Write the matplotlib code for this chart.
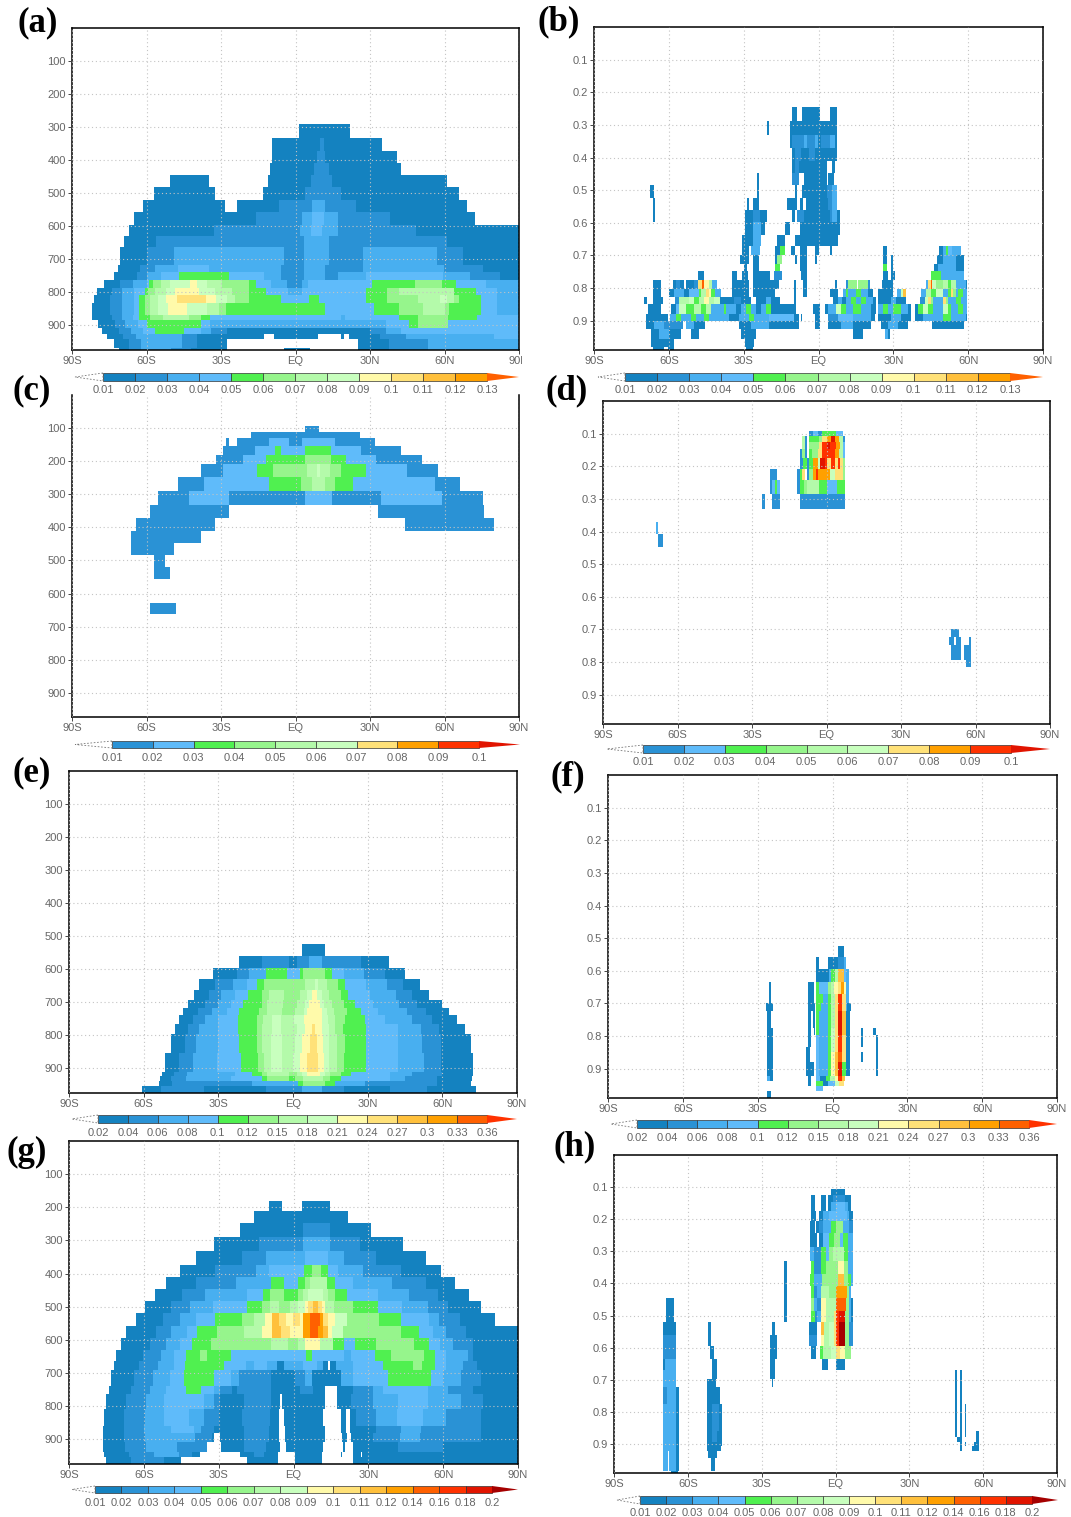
#!/usr/bin/env python
# zonal-mean cross sections, 8 panels, GrADS look
import numpy as np
import matplotlib
matplotlib.use('Agg')
from matplotlib import pyplot as plt
from matplotlib.colors import ListedColormap, BoundaryNorm
from matplotlib.patches import Polygon, Rectangle
from matplotlib.transforms import Bbox

W, H = 1071, 1517

# shading classes (1 = palest value class ... 16 = darkest red)
shades = ['#1482c0', '#2a92d5', '#48aff0', '#5fbbfa', '#50f050', '#96f58c',
          '#b4faaa', '#c8ffbe', '#fffaaa', '#ffe178', '#ffc03c', '#ffa000',
          '#ff6000', '#ff3200', '#e11400', '#a50000']

lat_ticks = [-90, -60, -30, 0, 30, 60, 90]
lat_labels = ['90S', '60S', '30S', 'EQ', '30N', '60N', '90N']
hpa_ticks = [100, 200, 300, 400, 500, 600, 700, 800, 900]
frac_ticks = [0.1, 0.2, 0.3, 0.4, 0.5, 0.6, 0.7, 0.8, 0.9]

labels_ab = ['0.01', '0.02', '0.03', '0.04', '0.05', '0.06', '0.07', '0.08', '0.09', '0.1', '0.11', '0.12', '0.13']
classes_ab = [1, 2, 3, 4, 5, 6, 7, 8, 9, 10, 11, 12, 13]
labels_cd = ['0.01', '0.02', '0.03', '0.04', '0.05', '0.06', '0.07', '0.08', '0.09', '0.1']
classes_cd = [2, 4, 5, 6, 7, 8, 10, 12, 14, 15]
labels_ef = ['0.02', '0.04', '0.06', '0.08', '0.1', '0.12', '0.15', '0.18', '0.21', '0.24', '0.27', '0.3', '0.33', '0.36']
classes_ef = [1, 2, 3, 4, 5, 6, 7, 8, 9, 10, 11, 12, 13, 14]
labels_gh = ['0.01', '0.02', '0.03', '0.04', '0.05', '0.06', '0.07', '0.08', '0.09', '0.1', '0.11', '0.12', '0.14', '0.16', '0.18', '0.2']
classes_gh = [1, 2, 3, 4, 5, 6, 7, 8, 9, 10, 11, 12, 13, 14, 15, 16]

# each row: (top of the layer, "lat:class" = from this latitude on, this class)
rows_a = [
    (290, "1.5:1 22:0"),
    (333, "-9.5:1 10:2 11.5:1 35:0"),
    (374, "-9.5:1 8.7:2 12:1 41:0"),
    (409, "-10.3:1 7.5:2 13.6:1 42.4:0"),
    (446, "-50.5:1 -34.7:0 -11.3:1 6.2:2 14.8:1 61:0"),
    (483, "-57:1 -32.3:0 -13.3:1 3.9:2 18.6:1 66:0"),
    (520, "-61.5:1 -28.5:0 -23.4:1 -6.5:2 6.6:3 12:2 24.5:1 69:0"),
    (557, "-65:1 -15.8:2 2.5:3 6.6:4 11.4:3 17:2 38:1 72.3:0"),
    (596, "-67:1 -33:2 2:3 6.2:4 10.7:3 17.2:2 48.5:1 90:0"),
    (631, "-69:1 -56:2 3.2:3 13.5:2 61:1 90:0"),
    (664, "-70.8:1 -60:2 -48.8:3 -4.4:2 3.6:3 13.5:2 27.2:3 57:2 67.5:1 90:0"),
    (717, "-71.4:1 -62.6:2 -56.4:3 -47.5:4 -34.7:3 -5.8:2 3.6:3 11.8:2 27.2:3 59.8:2 75.4:1 90:0"),
    (740, "-73:1 -64:2 -60:3 -54.3:4 -46.8:5 -26.8:4 -12.6:3 -5.8:2 3.6:3 11.8:2 17.3:3 28.6:4 59.6:3 70.3:2 82.3:1 90:0"),
    (765, "-77.3:1 -70.4:2 -65.2:3 -59.8:4 -59:5 -57.4:6 -54:7 -50.5:8 -42.5:9 -39.5:8 -35.4:7 -29.8:6 -18.8:5 -15.8:4 -9.9:3 -3.4:2 2.5:3 5:4 30.7:5 47.9:6 58.9:5 64.4:4 76.8:3 90:0"),
    (788, "-80:1 -73.9:2 -69.7:3 -65:4 -60.8:5 -59.4:6 -56.7:7 -51.9:8 -48.4:9 -38.8:8 -32.6:7 -25.7:6 -18.8:5 -12:4 -3:3 2.5:4 28.6:5 36.9:6 41.7:7 63.7:5 72.6:4 80.9:3 90:0"),
    (808, "-81.3:1 -74.5:2 -70:3 -65:4 -62.9:5 -60.8:6 -58.7:7 -55.3:8 -51.9:9 -47.7:10 -36:9 -32:8 -27.8:7 -24.3:6 -18.8:5 -5.8:4 5.2:5 9.4:4 28.6:5 36.9:6 49.2:7 58:8 61:7 63.7:6 65.8:5 74.7:4 80.9:3 90:0"),
    (835, "-81.7:1 -74.5:2 -70:3 -65:4 -62.9:5 -60.8:6 -58.7:7 -55.3:8 -51.2:9 -43.6:8 -35.4:7 -31:6 -28:5 -14.7:5 -3:5 12:4 31.4:5 41.7:6 51.3:7 60.2:6 62:5 74.7:4 80.9:3 90:0"),
    (870, "-81.7:1 -73.9:2 -70:3 -65.6:4 -62.9:5 -58.7:6 -53.2:7 -42.9:6 -38:5 -34.4:4 18.3:3 20:4 41.7:5 49.6:6 61.6:5 73.3:4 90:0"),
    (885, "-79.5:1 -72.5:2 -68.4:3 -63.5:4 -60:5 -38:4 -34.4:3 36.2:4 45.8:5 49.6:6 61.6:4 90:0"),
    (910, "-78:1 -71:2 -66.3:3 -61.5:4 -56.4:5 -45:4 -38:3 -34:2 -27.4:1 30:2 36.2:3 42.4:4 90:0"),
    (927, "-76:1 -69.5:2 -64.2:3 -45.7:2 -39.5:1 -12.6:0 -8.8:1 9.2:0 18.5:1 19.5:0 21.5:1 34:2 44.4:3 80:4 90:0"),
    (943, "-73:1 -67:2 -62.2:3 -45.7:2 -39.5:1 -27.8:0 25.2:1 37.5:2 53.4:3 90:0"),
    (970, "-71:1 -67:2 -62.2:3 -50:2 -42:1 -27.8:0 -4.8:1 5.9:0 25.2:1 37.5:2 53.4:3 90:0"),
]

rows_b = [
    (0.244, "-10.5:1 -8.8:0 -6.7:1 0.4:0 4.5:1 7.3:0"),
    (0.287, "-20.8:1 -19.7:0 -11.6:1 7.3:0"),
    (0.331, "-11.6:1 -10.5:2 -5.8:3 -4.5:2 -1.5:3 -0.3:1 1:2 4.5:3 6.8:1 7.3:0"),
    (0.372, "-10.5:1 -9.5:2 -7:1 -4:2 -1.5:1 7.3:0"),
    (0.41, "-10.5:1 -9.5:2 -8:1 3.5:0 5.5:1 6.5:0"),
    (0.447, "-24.6:1 -23.8:0 -10.5:2 -8:0 -5.8:1 3.5:0 4:1 6.3:0"),
    (0.485, "-67.7:1 -65.8:0 -24.6:1 -23.8:0 -9.5:1 -8.5:0 -6.7:1 3.5:2 5.2:3 7.3:0"),
    (0.523, "-66.4:1 -65.6:0 -28.8:1 -27.7:0 -26.3:1 -23.8:0 -12.6:1 -8.8:0 -7.4:1 -6.3:0 -5.1:1 4:2 5.2:3 7.3:0"),
    (0.56, "-66.4:1 -65.6:0 -29.5:1 -26.3:2 -23.6:1 -20.8:0 -10.5:1 -9.5:0 -8.5:2 -5.8:1 4.5:2 5.5:3 7.3:1 8.4:0"),
    (0.597, "-29.5:1 -26.3:3 -23:1 -21.5:0 -13.6:1 -11.6:0 -7.4:1 8.4:0"),
    (0.636, "-30.4:1 -26.3:3 -22.9:0 -16.4:1 -13.6:0 -9.6:1 7.7:0"),
    (0.671, "-30.4:1 -28:0 -27:3 -23.6:0 -17.6:1 -15.5:5 -13.6:0 -11:1 -9.6:0 -7.4:1 -4.8:0 -1.3:1 0.1:0 4.5:1 5.5:0 26:1 27.4:0 48.4:1 49.8:3 51:5 52:4 53.5:3 57.3:0"),
    (0.7, "-31.4:1 -27.7:0 -26.3:1 -23.8:0 -17.6:1 -16.5:6 -14.4:0 -9.6:1 -8.5:0 -7.4:1 -4.8:0 -1.3:1 -0.5:0 26:1 27.4:0 29:1 30:0 47.4:1 49.8:3 55:1 58.4:0"),
    (0.726, "-30:1 -28.5:0 -26.3:1 -23.8:0 -17.6:5 -15.3:0 -7.4:1 -4.8:0 26:5 27.4:0 29:1 30:0 46.3:1 47.7:3 55:1 58.4:0"),
    (0.748, "-48.5:1 -45.8:0 -34.8:1 -32.5:0 -30.4:1 -28.3:0 -26.3:1 -19.5:0 -18:2 -14.6:0 -7.1:1 -4.8:0 26:1 28:0 29:1 30.4:0 45:5 49.3:3 58.4:0"),
    (0.775, "-66.4:1 -63:0 -58.5:1 -57:2 -55.5:1 -53.7:0 -53:1 -50:2 -48.5:10 -46.8:13 -45.8:9 -44:7 -42.5:3 -40.5:0 -34.8:1 -27.7:0 -26.3:1 -16:0 -10:1 -9:0 -6.3:1 -4.8:0 6.5:1 7.5:0 11:2 12:6 15.5:0 16:6 20:2 20.5:0 25.5:1 30:0 43:3 44:10 45:13 45.5:8 47:6 50:7 52:5 53:7 55:3 59:1 59.5:0"),
    (0.803, "-66.4:1 -63:0 -60:1 -58:3 -54:1 -52:4 -48:5 -47:7 -45:10 -44:9 -43:5 -41.5:3 -39:0 -34.8:1 -27.7:0 -26.3:1 -17.5:0 -10:1 -9:0 -6.3:1 -4.8:0 4.5:1 8:0 10:3 11:5 12:3 15:5 17:3 20:1 22:0 24:1 30:0 31.5:3 33:8 34:11 35:0 41:3 43:7 45:5 47:8 50:3 52:5 53:10 54:6 55:3 56:5 58:3 59.5:0"),
    (0.828, "-70:1 -68.8:0 -66.4:1 -62.6:0 -57.5:2 -56:7 -52:8 -50:5 -48:7 -46:9 -44:7 -42:8 -39.5:1 -34:2 -31:1 -27:0 -25:1 -21:3 -19:1 -15.5:0 -10:1 -9:0 6:1 8:3 9.5:1 11:3 13:5 15:3 17:5 19:3 22:1 23:0 24:1 29:3 31:1 35:0 40.5:2 42.5:8 44:10 45:6 46:3 50:10 51:6 52:3 55:5 57:3 59.5:0"),
    (0.849, "-68.4:1 -63:0 -59:1 -57:4 -56:8 -53:5 -50:7 -47:5 -45:7 -43:3 -38:5 -37:3 -33:1 -31:3 -29:5 -27:3 -25:1 -23:3 -21:5 -19:1 -9:0 -2.3:1 0.4:0 2.5:1 4:3 7:8 9:5 11:3 14:5 17:3 21:1 23:0 24:3 26:5 28:3 30:5 33:3 36:1 37:0 38.5:1 40:5 42:8 44:5 46:3 50:8 52:5 53:3 56:5 58:3 59.5:0"),
    (0.879, "-68.9:1 -60.4:0 -59.5:3 -57:5 -55:3 -51:5 -49:3 -46:5 -44:3 -36:1 -32:3 -28:5 -26:3 -20:4 -10:1 -8:0 -7:1 -6.5:0 -1.6:1 0.4:0 4:2 8:4 14:3 21:1 22.5:0 24:1 29:3 33:1 37:0 38.5:1 42:3 50:5 53:3 59:1 59.5:0"),
    (0.9, "-68.9:1 -66:3 -62:2 -54.5:0 -53.2:3 -50:1 -45.5:0 -32:1 -27:3 -20:1 -7.8:0 -1.6:1 0.4:0 4:1 9:3 14:1 21:0 25:1 28:3 32:1 36:0 45.5:1 58.5:0"),
    (0.926, "-66.9:1 -64:3 -60:1 -55:0 -51:1 -48:0 -31:1 -25:0 14:1 18:0 26.5:3 28:1 28.6:0"),
    (0.956, "-66.9:1 -58:0 -29.5:1 -26:0"),
    (0.982, "-66.4:1 -62:0 -60.5:1 -58:0 -29:1 -26.3:0"),
]

rows_c = [
    (94, "3.7:2 9.6:0"),
    (112, "-18:2 26:0"),
    (130, "-27.9:2 -26.8:0 -23.5:2 -10.7:4 -2.7:2 2.7:4 15.7:2 32:0"),
    (153, "-29.3:2 -16.2:4 -8.2:5 -5.9:4 4:5 14.3:4 26.4:2 42.6:0"),
    (180, "-31.9:2 -21:4 -11.8:5 4:6 14.3:5 20.6:4 32.5:2 50.7:0"),
    (210, "-38.2:2 -29.3:4 -15.5:5 -9.3:6 4.8:7 8.8:8 9.9:7 13.7:6 18.5:5 28.4:4 45:2 57.3:0"),
    (248, "-47.3:2 -36.8:4 -10.7:5 2.3:6 6.5:7 12:6 15.7:5 23.2:4 55.9:2 66.2:0"),
    (290, "-55.4:2 -43:4 -26.8:2 4.1:4 14.7:2 34.2:4 59:2 75.4:0"),
    (333, "-58.8:2 -26.8:0 33.2:2 75.7:0"),
    (373, "-64.3:2 -32.3:0 44.2:2 79.8:0"),
    (410, "-66.2:2 -38.3:0"),
    (447, "-66.2:2 -48.8:0"),
    (483, "-57.1:2 -52.7:0"),
    (521, "-57.1:2 -50.5:0"),
    (557, ""),
    (630, "-58.4:2 -48:0"),
    (663, ""),
]

rows_d = [
    (0.092, "-6.9:2 -5.5:4 -3.5:2 -2:5 1:5 4:4 6.5:0"),
    (0.107, "-9.8:7 -8.4:2 -7.7:0 -6.9:5 -2.9:6 -1.8:10 0.3:12 1.9:15 3.3:12 5:7 6.5:2 7.2:0"),
    (0.127, "-9.8:7 -8.4:2 -7.7:0 -6.9:6 -2.9:10 -1.8:14 -0.1:15 1.2:14 3.7:12 5.4:7 6.5:4 7.2:0"),
    (0.148, "-10.6:2 -9.8:6 -8.4:2 -7.7:0 -6.9:5 -6:6 -3.6:10 -1.8:14 3.3:12 5:7 6.5:4 7.2:0"),
    (0.174, "-10.6:2 -9.4:5 -8:2 -7:5 -5.6:12 -3.6:8 -2.8:15 -0.8:14 0.3:10 1.9:14 3.3:10 4.7:14 5.4:10 6.7:6 7.2:0"),
    (0.207, "-22.8:2 -19.8:0 -11.7:2 -10.7:5 -9.7:10 -8.8:0 -8:2 -6.9:6 -5.6:12 -4.2:14 -3.6:12 1.2:8 3.3:10 6.7:6 7.2:0"),
    (0.243, "-22.8:2 -21.7:4 -20.7:5 -19.8:4 -18.7:0 -11.7:2 -10.7:5 -9:6 -7.7:7 -2.9:5 -0.1:4 4.3:5 7.2:0"),
    (0.286, "-25.9:2 -24.8:0 -21.7:2 -18.7:0 -10.7:2 7.2:0"),
    (0.331, ""),
    (0.371, "-68.8:3 -68:0"),
    (0.409, "-68:2 -65.8:0"),
    (0.446, ""),
    (0.699, "50.3:2 53.2:0"),
    (0.723, "49.2:2 51.2:0 52.3:2 54.2:0 57.2:2 58.3:0"),
    (0.748, "50.3:2 54.2:0 55.3:2 58.3:0"),
    (0.795, "56.2:2 58.3:0"),
    (0.816, ""),
]

rows_e = [
    (524, "3.8:1 13:0"),
    (559, "-21.4:1 -12.6:2 -1.4:1 1.4:2 6.2:3 11.7:2 27.2:1 38.7:0"),
    (596, "-32:1 -22.4:2 -17.4:3 -11:5 -2.5:4 2.7:5 4:6 13:5 15.5:4 20.6:3 28.6:2 37:1 45:0"),
    (631, "-37.8:1 -31.6:2 -24.3:3 -18.5:4 -14.4:5 -11.7:6 4.8:7 8.9:8 10:7 13.7:6 17.9:5 20.9:4 29.5:3 37.8:2 44.2:1 51:0"),
    (662, "-39.8:1 -33.7:2 -28.8:3 -23.4:4 -18.1:5 -12.4:6 -9.6:7 -3.4:6 2.7:7 5.5:8 7.6:9 9.6:8 11.7:7 14.4:6 19.2:5 22.3:4 30.9:3 41.2:2 47.8:1 54.5:0"),
    (692, "-41.9:1 -35.5:2 -30.2:3 -25:4 -20:5 -12.6:6 -10.2:7 -4.1:6 1.4:7 4.8:8 6.5:9 11:8 12.4:7 15.8:6 20.6:5 24.7:4 32:3 42.6:2 50:1 59.8:0"),
    (719, "-44:1 -38:2 -32.5:3 -26.5:4 -21.4:5 -13.7:6 -10.5:7 -4.5:6 1:7 4.2:8 5.5:9 11.5:8 13.4:7 16.5:6 21.5:5 27.5:4 34:3 46:2 53.5:1 62.5:0"),
    (740, "-45.7:1 -40:2 -35.5:3 -30:4 -21.9:5 -14.4:6 -12:7 -8.2:8 -4.8:7 0.5:8 4.5:9 11.4:8 14:7 17:6 20.9:5 29:4 37:3 48:2 56:1 65.7:0"),
    (765, "-47.4:1 -41.9:2 -37.8:3 -30.2:4 -22:5 -14.4:6 -12.4:7 -8.2:8 -4.8:7 1.4:8 4.8:9 7.6:10 9:9 11.7:8 14.4:7 17:6 19.9:5 29.5:4 41.9:3 51.5:2 58.8:1 69.2:0"),
    (795, "-49:1 -43.5:2 -39:3 -30.2:4 -21.4:5 -14.4:6 -12.4:7 -9:8 -4.5:7 1:8 3.5:9 6.8:10 9.6:9 12:8 14.5:7 17.5:6 21:5 29.5:4 42:3 52:2 59.5:1 71.5:0"),
    (855, "-51.5:1 -46:2 -40:3 -30.5:4 -21:5 -14:6 -11.5:7 -9:8 -4.5:7 0:8 3:9 5.5:10 10:9 12.5:8 14.5:7 17.5:6 20.5:5 29.2:4 42:3 52.5:2 59.5:1 72.5:0"),
    (910, "-52.5:1 -48:2 -42.6:3 -23.4:4 -16.5:5 -12.6:6 -10.3:7 -1.4:6 1.4:7 3.5:8 5.5:9 11:8 13:7 15:6 19.2:5 23.4:4 39.1:3 47.8:2 59.8:1 72.5:0"),
    (925, "-53.5:1 -49:2 -43:3 -25:4 -12.4:5 -10.3:6 -1.4:5 1:6 4:7 12:6 15:5 19.2:4 39:3 45:2 58:1 72:0"),
    (940, "-54:1 -48.8:2 -16.5:3 2:5 4:6 13:5 17:3 29:2 58:1 71.5:0"),
    (953, "-60.4:1 -52.9:2 -35.7:1 -10.7:2 3.8:3 11.7:2 20.6:1 39:2 54:1 73.5:0"),
]

rows_f = [
    (0.523, "2.3:1 4.4:0"),
    (0.558, "-6.6:1 -5.6:0 -1.8:1 2.3:2 4.4:3 5.3:0"),
    (0.595, "-6.6:1 -1.5:3 -0.4:5 1:7 2.3:11 4.4:4 5.3:3 6.4:0"),
    (0.635, "-25.5:1 -24.5:0 -9.7:1 -7.5:0 -6.6:5 -5.6:4 -1.8:6 -0.4:7 0.7:9 2.3:10 3.6:12 4.4:9 5.3:3 6.4:0"),
    (0.671, "-25.5:1 -24.5:0 -9.7:1 -7.5:0 -6.6:5 -3.8:3 -1.8:5 -0.4:7 1:10 2.3:14 4.1:10 5.3:3 6.4:0"),
    (0.698, "-26.5:1 -24:0 -9.7:1 -7:0 -6.6:5 -4.5:3 -1.8:5 -0.4:7 1:10 2.3:14 4.1:10 5.3:3 6.1:1 7.2:0"),
    (0.723, "-26.2:1 -24.8:0 -9.7:1 -8.6:0 -8:1 -7:0 -6.6:5 -5.6:3 -1.8:5 -0.4:7 1:10 2.3:15 4.1:11 5.3:1 7:0"),
    (0.774, "-26.2:1 -24:0 -9.7:1 -8.6:0 -7.5:1 -7:0 -6.6:5 -5.6:3 -1.8:5 -0.4:8 1:10 2.3:15 4.1:11 5.3:1 7:0 11.2:1 12.3:0 16.3:1 17.4:0"),
    (0.797, "-26.2:1 -24:0 -9.7:1 -8.6:0 -6.6:4 -5.6:3 -1.8:5 -0.4:8 1:10 2.3:14 4.1:10 5.3:1 7:0 11.2:1 12.3:0 17.4:1 18.2:0"),
    (0.833, "-26.2:1 -24:0 -10.5:1 -9.1:0 -6.6:4 -5.6:3 -1.8:5 -0.4:8 1:10 2.3:14 4.1:10 5.3:1 7:0 17.4:1 18.2:0"),
    (0.849, "-26.2:1 -24:0 -10.5:1 -9.1:0 -6.6:4 -5.6:3 -1.8:5 -0.4:9 1:11 2.3:13 4.1:10 5.3:1 7:0 11.2:1 12.3:0 17.4:1 18.2:0"),
    (0.879, "-26.2:1 -24:0 -10.5:1 -7.5:0 -6.6:4 -5.6:3 -1.8:5 -0.4:9 1:11 2.3:15 4.1:5 5.3:1 7:0 17.4:1 18.2:0"),
    (0.923, "-26.2:3 -25:1 -24:0 -9.7:1 -8.6:0 -6.6:4 -5:1 -2.5:5 -1:7 1:9 2.3:14 4.1:11 5:0"),
    (0.939, "-9.7:1 -8.6:0 -6.6:5 -3.8:1 -1.8:4 1:8 2.5:10 4.4:0"),
    (0.954, "-6.6:4 -3.8:0"),
    (0.969, "-26.2:1 -24.5:0"),
]

rows_g = [
    (180, "-10.1:1 -4.7:0 3.2:1 14.8:0"),
    (211, "-15.9:1 22:0"),
    (248, "-21.4:1 3.8:2 14.8:1 31.2:0"),
    (289, "-32:1 -14:2 3.8:3 14.8:2 26.4:1 44:0"),
    (333, "-39:1 -20.5:2 -11:3 4.5:4 14:3 20.3:2 33:1 53:0"),
    (375, "-45.6:1 -31.5:2 -15:3 -10:4 4.2:5 7.5:6 11:5 14:4 18:3 28:2 43:1 59.3:0"),
    (410, "-51:1 -39.3:2 -22.9:3 -8.9:5 -3.7:4 1.8:5 4.5:6 6.6:7 13.4:5 16.8:4 23.7:3 39.5:2 53:1 64.8:0"),
    (446, "-55.5:1 -44.5:2 -35.5:3 -18.8:4 -12.2:5 -9.5:6 -3.7:5 1.8:6 3.8:7 5.9:8 12:7 14:6 16.8:5 21.4:4 33.7:3 46.3:2 57.9:1 70.5:0"),
    (484, "-59.6:1 -48.9:2 -41.4:3 -32.3:4 -18.4:5 -12.6:6 -9.2:7 -5.8:6 -1.6:7 1.8:8 4.5:9 5.9:10 7.9:11 10:10 11.4:9 12.7:7 16.2:6 23.7:5 33.7:4 43.6:3 53.8:2 62:1 75:0"),
    (520, "-63.3:1 -52.3:2 -45.5:3 -39.3:4 -31.5:5 -20.5:6 -16:7 -11.5:9 -8.5:11 -5.8:10 -3:9 -0.3:10 2.5:9 3.8:12 6.8:13 10.7:12 12:10 14:9 16.8:8 21.6:6 34.2:5 42.9:4 54.5:3 58.6:2 66.8:1 80.8:0"),
    (557, "-67:1 -55:2 -49:3 -42.7:4 -38.6:5 -30.8:6 -20:7 -12.6:9 -8.5:11 -5:10 -1.6:9 3.8:12 6.8:13 10:12 12:11 14:9 15.5:8 19.8:6 42.9:5 50.4:4 55.8:3 61:2 69:1 90:0"),
    (595, "-69:1 -57.5:2 -51:3 -45.6:4 -40.7:5 -32.9:6 -8.9:7 -2.3:6 1.8:7 4.8:9 10.7:7 15.9:5 20.3:4 24.4:5 33:6 48.5:5 54.4:4 58.8:3 64:2 72:1 90:0"),
    (630, "-71:1 -60.5:2 -53:3 -48:4 -43.2:5 -37.6:6 -34.5:5 -25:4 4.9:5 7.5:4 20.3:3 23:4 32.5:5 39:6 52.5:5 56.7:4 61:3 70:2 72:1 90:0"),
    (663, "-72:1 -62:2 -54.4:3 -48:4 -43.5:5 -27.8:4 -18.9:3 -16:4 -10.7:3 -6.6:1 -4.1:3 3.8:4 9.3:3 11.8:1 14:0 14.5:1 17:3 24:4 36:5 48:6 51.5:5 56.7:4 61:3 68:2 73.6:1 90:0"),
    (692, "-73:1 -64:2 -56.4:3 -49.5:4 -43.8:5 -32:4 -25:3 -22:2 -9:1 0.4:2 4.5:3 7.2:1 18.9:3 24:4 38:5 55:4 60:3 67:2 75:1 90:0"),
    (739, "-74:1 -65:2 -57.5:3 -50.9:4 -43:5 -37:4 -32:3 -29.5:2 -24.6:1 -22.8:2 -9:1 2.5:2 8:1 12.5:0 17.3:1 24:2 32:3 36:4 54:3 62:2 72:1 90:0"),
    (765, "-75:1 -67:2 -59:3 -52:4 -36:3 -32:2 -29.5:1 -20:2 -9:1 -5.5:0 -4.4:1 12.5:0 17.5:1 23:2 32:3 42:4 54:3 67:2 76:1 90:0"),
    (809, "-76:1 -68:2 -59.4:3 -52:4 -42:3 -36:2 -30:1 -20.5:2 -9.5:1 -6:0 -3.7:1 12:0 19:1 21:0 22.7:1 25:2 33:3 41.6:4 52:3 61:2 75:1 90:0"),
    (860, "-76.3:1 -68:2 -59.8:3 -49:4 -40:3 -37:2 -32:1 -20:2 -10:1 -6:0 -3.5:1 12.5:0 19:1 21:0 22.5:1 33:2 43:3 51:2 75:1 90:0"),
    (880, "-76.3:1 -68:2 -59.4:3 -39.5:2 -32.5:1 -32:0 -29.5:1 -20:2 -10:1 -5.7:0 -3.3:1 12.4:0 19.4:1 21.3:0 23:1 32:2 42.6:3 50.8:2 58:2 75:1 90:0"),
    (910, "-76.3:1 -67.5:2 -58.9:3 -46.8:2 -34.7:0 -29:1 -20:2 -11:1 -5.5:0 -3:1 12:0 20:1 20.7:0 23.8:1 42:2 60:1 90:0"),
    (940, "-76:1 -66:2 -56:3 -46:2 -40.5:1 -37.5:0 -21.5:1 -16:2 -12:1 -6.3:0 0.4:1 11.4:0 18.9:1 19.5:0 23.7:1 27:0 27.5:1 90:0"),
    (953, "-75:1 -65:2 -52:1 -45:0 -18.6:1 -6.3:0 0.4:1 11.4:0 23.7:1 90:0"),
]

rows_h = [
    (0.106, "-1.8:1 4:0"),
    (0.126, "-9.9:1 -8.5:0 -5.7:1 -3.9:0 -2.9:1 -1:2 4:1 6.2:0"),
    (0.147, "-9.9:1 -8.5:0 -5.7:1 -3.9:0 -2.9:1 -1.8:3 0:4 4:3 5:1 6.2:0"),
    (0.174, "-9.9:1 -7.7:0 -6.7:1 -5.3:3 -2.5:4 4.5:3 5.5:1 7.2:0"),
    (0.207, "-10.6:1 -8.5:0 -7.7:1 -6.7:2 -5.3:3 -1.8:5 0.3:6 3:3 5.5:2 7.2:0"),
    (0.243, "-10.6:1 -7.4:0 -6.7:1 -5.3:4 -2.5:5 -0.4:6 1.7:4 3:5 5:4 5.2:3 7.2:0"),
    (0.285, "-10.6:3 -8.8:2 -5.7:5 -3.9:4 -2.5:6 -1:7 3.5:5 5:3 7.2:0"),
    (0.331, "-20.8:1 -19.7:0 -9.9:5 -8.8:2 -5.7:5 -3.9:6 1:9 3.5:6 5:3 7.2:0"),
    (0.371, "-20.8:1 -19.7:0 -10.6:5 -8.8:3 -5.5:6 1:11 3.5:6 5:5 6.2:3 7.2:0"),
    (0.409, "-20.8:1 -19.7:0 -9.9:5 -8.8:2 -7.4:3 -5.7:7 -2.5:6 0.3:12 4.4:6 5.5:3 6.5:0"),
    (0.446, "-68.7:1 -65.7:0 -20.8:1 -19.7:0 -9.9:6 -8.8:3 -7.4:2 -6:9 -3.9:7 0.3:13 4.2:6 5.5:3 6.5:1 7:0"),
    (0.485, "-68.7:1 -65.7:0 -20.8:1 -19.7:0 -9.9:5 -8.5:2 -7.4:3 -5.7:9 -3.9:7 -0.5:10 0.3:14 1.4:15 4:6 5.5:3 6.5:1 7.2:0"),
    (0.521, "-70:1 -65:0 -51.8:1 -50.7:0 -25.8:1 -24.7:0 -10.8:1 -7.4:0 -6:11 -4.6:7 -2.5:8 -0.5:10 0.3:14 1.4:16 4:6 5.5:2 7.2:0"),
    (0.559, "-70:2 -65:0 -51.8:1 -50.7:0 -26.5:1 -23.8:0 -10.8:2 -7.4:0 -6:9 -4.6:7 -2.5:8 -0.5:10 0.3:14 1.4:16 4:6 5.5:2 7.2:0"),
    (0.596, "-70:2 -65:0 -51:1 -49.6:0 -26.5:1 -23.8:0 -9.9:1 -7.7:0 -6.5:5 -5:7 -2:8 0:10 2:9 4:6 6.2:0"),
    (0.634, "-70:1 -69.3:3 -65:0 -50:1 -48.2:0 -26.5:1 -24.7:0 -5.6:1 -2.9:0 0.3:1 4:0"),
    (0.669, "-70:3 -65:0 -50:1 -48.2:0 -26.5:1 -24.7:0 48.5:1 49.3:0 50.5:1 51.2:0"),
    (0.697, "-70:3 -65:0 -52.3:1 -48.5:0 -26:1 -25.3:0 48.5:1 49.3:0 50.5:1 51.2:0"),
    (0.722, "-70:2 -68.6:3 -65:1 -63.7:0 -52.3:1 -47:0 48.5:1 49.3:0 50.5:1 51.2:0"),
    (0.775, "-70:3 -65:1 -63.7:0 -52.3:1 -50:2 -47.5:1 -46:0 48.5:1 49.3:0 50.5:1 51.2:0 52.4:1 53.1:0"),
    (0.86, "-70:3 -65:1 -63.7:0 -52.3:1 -50:2 -48:1 -46:0 48.5:1 49.3:0 50.5:1 51.2:0 52.4:1 53.1:0 57.2:1 58.3:0"),
    (0.877, "-70:3 -65:1 -63.7:0 -52.3:1 -50:2 -48:1 -46:0 49.3:1 51.2:0 57.2:1 58.3:0"),
    (0.892, "-70:3 -65:1 -63.7:0 -52.3:1 -46.2:0 50.5:1 51.2:0 52.4:1 53.1:0 56.3:1 58.3:0"),
    (0.907, "-70:3 -65:1 -63.7:0 -52.3:1 -46.5:0 50.5:1 51.2:0 55.5:1 58.3:0"),
    (0.922, "-70:3 -68:0 -67.5:3 -65:1 -63.7:0 -52:1 -48:0"),
    (0.943, "-70:3 -68:0 -67.5:3 -65:1 -63.7:0 -50.5:1 -49:0"),
    (0.985, "-66.7:1 -63.9:0"),
]

lat_mid = np.arange(-90, 90, 0.25) + 0.125
lat_edges = np.arange(-90, 90.01, 0.25)
cmap = ListedColormap(shades)
cmap.set_bad((1, 1, 1, 0))
norm = BoundaryNorm(np.arange(0.5, 17.5, 1), cmap.N)


def paint(rows, bottom):
    # turn the layer rows into a lat/level field
    edges = [r[0] for r in rows] + [bottom]
    grid = np.zeros((len(rows), lat_mid.size))
    for i, (top, runs) in enumerate(rows):
        for item in runs.split():
            lat, cl = item.split(':')
            grid[i, lat_mid >= float(lat)] = int(cl)
    return np.array(edges), np.ma.masked_equal(grid, 0)


def px_axes(x0, y0, x1, y1):
    return fig.add_axes([x0 / W, 1 - y1 / H, (x1 - x0) / W, (y1 - y0) / H])


plt.rcParams['font.family'] = ['Liberation Sans', 'DejaVu Sans']
fig = plt.figure(figsize=(W / 100.0, H / 100.0), dpi=100, facecolor='white')

panels = [
    # rows, box in pixels, ymax, ticks, format
    (rows_a, (72, 28, 519, 350), 976, hpa_ticks, '%d'),
    (rows_b, (594, 27, 1043, 350), 0.99, frac_ticks, '%.1f'),
    (rows_c, (72, 395, 519, 717), 973, hpa_ticks, '%d'),
    (rows_d, (603, 401, 1050, 724), 0.99, frac_ticks, '%.1f'),
    (rows_e, (69, 771, 517, 1093), 975, hpa_ticks, '%d'),
    (rows_f, (608, 775, 1057, 1098), 0.99, frac_ticks, '%.1f'),
    (rows_g, (69, 1141, 518, 1464), 975, hpa_ticks, '%d'),
    (rows_h, (614, 1155, 1057, 1473), 0.99, frac_ticks, '%.1f'),
]

for idx, (rows, box, ymax, ticks, fmt) in enumerate(panels):
    ax = px_axes(*box)
    edges, grid = paint(rows, ymax)
    ax.pcolormesh(lat_edges, edges, grid, cmap=cmap, norm=norm, shading='flat', antialiased=False)
    ax.set_xlim(-90, 90)
    ax.set_ylim(ymax, 0)
    ax.set_xticks(lat_ticks)
    ax.set_xticklabels(lat_labels)
    ax.set_yticks(ticks)
    ax.set_yticklabels([fmt % t for t in ticks])
    ax.tick_params(length=3, width=0.7, color='#444444', labelsize=8, labelcolor='#666666', pad=1.5)
    ax.set_axisbelow(False)
    ax.grid(True, color='#c4c4c4', linestyle=(0, (1, 2.5)), linewidth=0.8)
    for s in ax.spines.values():
        s.set_linewidth(1.1)
    if idx == 2:
        ax.spines['top'].set_visible(False)
    if idx == 0:
        # this panel's last label is cut by the image strip
        ax.get_xticklabels()[-1].set_clip_box(Bbox([[0, 0], [522, H]]))
        ax.get_xticklabels()[-1].set_clip_on(True)

# colour bars and panel letters go on a pixel overlay
ov = fig.add_axes([0, 0, 1, 1], zorder=10)
ov.set_xlim(0, W)
ov.set_ylim(H, 0)
ov.axis('off')
ov.patch.set_alpha(0)

bars = [
    (classes_ab, labels_ab, 75, 103, 487, 519, 373, 381, 390),
    (classes_ab, labels_ab, 598, 625, 1010, 1043, 373, 381, 390),
    (classes_cd, labels_cd, 75, 112, 479, 520, 741, 748, 758),
    (classes_cd, labels_cd, 607, 643, 1011, 1050, 745, 753, 762),
    (classes_ef, labels_ef, 72, 98, 487, 517, 1115, 1123, 1133),
    (classes_ef, labels_ef, 611, 637, 1029, 1057, 1120, 1128, 1138),
    (classes_gh, labels_gh, 72, 95, 492, 518, 1486, 1493, 1503),
    (classes_gh, labels_gh, 617, 640, 1032, 1058, 1496, 1504, 1513),
]

for classes, labels, tip0, x0, x1, tip1, y0, y1, ylab in bars:
    n = len(classes)
    xs = np.linspace(x0, x1, n)
    for i in range(n - 1):
        ov.add_patch(Rectangle((xs[i], y0), xs[i + 1] - xs[i], y1 - y0,
                               facecolor=shades[classes[i] - 1], edgecolor='#333333', linewidth=0.5))
    ov.add_patch(Polygon([(x1, y0), (tip1, (y0 + y1) / 2.0), (x1, y1)],
                         facecolor=shades[classes[-1] - 1], edgecolor='none'))
    ov.add_patch(Polygon([(x0, y0), (tip0, (y0 + y1) / 2.0), (x0, y1)], facecolor='white',
                         edgecolor='#777777', linewidth=0.6, linestyle=(0, (2, 2))))
    for x, lab in zip(xs, labels):
        ov.text(x, ylab, lab, ha='center', va='center', fontsize=8, color='#666666')

letters = ['(a)', '(b)', '(c)', '(d)', '(e)', '(f)', '(g)', '(h)']
letter_x = [38, 559, 32, 567, 32, 568, 27, 575]
letter_y = [23, 22, 391, 391, 773, 777, 1152, 1147]
for t, x, y in zip(letters, letter_x, letter_y):
    ov.text(x, y, t, ha='center', va='center', fontsize=25, fontweight='bold',
            family=['Liberation Serif', 'DejaVu Serif'], color='black')

fig.savefig('out.png', dpi=100)
